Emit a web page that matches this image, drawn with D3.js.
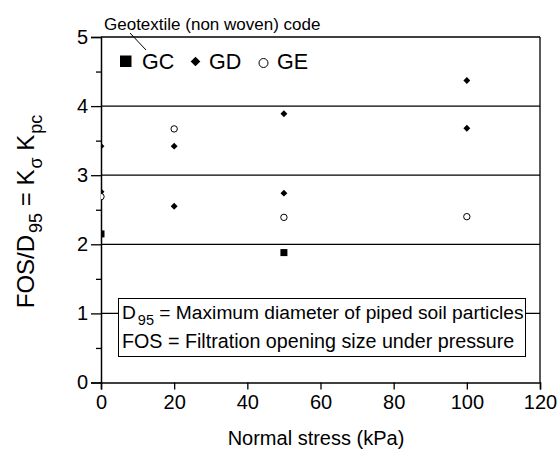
<!DOCTYPE html>
<html>
<head>
<meta charset="utf-8">
<script src="https://cdn.jsdelivr.net/npm/d3@7"></script>
<style>
  html, body { margin: 0; padding: 0; background: #fff; }
  svg { display: block; font-family: "Liberation Sans", Arial, sans-serif; }
</style>
</head>
<body>
<svg id="chart" width="560" height="453"></svg>
<script>
// Normal stress (kPa) and FOS/D95 readings per geotextile
const gcStress = [0, 50];
const gcRatio = [2.15, 1.88];
const gdStress = [0, 0, 20, 20, 50, 50, 100, 100];
const gdRatio = [3.42, 2.76, 3.42, 2.55, 3.89, 2.74, 4.37, 3.68];
const geStress = [0, 20, 50, 100];
const geRatio = [2.69, 3.67, 2.39, 2.40];

const xTicks = [0, 20, 40, 60, 80, 100, 120];
const yTicks = [0, 1, 2, 3, 4, 5];
const yMinorTicks = [0.5, 1.5, 2.5, 3.5, 4.5];

const svg = d3.select("#chart");
const m = { left: 101, right: 540, top: 37, bottom: 382.5 };
const FONT = "Liberation Sans, Arial, sans-serif";

const x = d3.scaleLinear().domain([0, 120]).range([m.left, m.right]);
const y = d3.scaleLinear().domain([0, 5]).range([m.bottom, m.top]);

svg.append("defs").append("clipPath").attr("id", "plotClip")
  .append("rect")
  .attr("x", m.left).attr("y", m.top)
  .attr("width", m.right - m.left).attr("height", m.bottom - m.top);

// horizontal gridlines
svg.append("g").selectAll("line")
  .data(yTicks.filter(d => d > 0 && d < 5))
  .join("line")
  .attr("x1", m.left).attr("x2", m.right)
  .attr("y1", d => y(d)).attr("y2", d => y(d))
  .attr("stroke", "#000").attr("stroke-width", 1.3);

// frame: top and right borders
svg.append("line").attr("x1", m.left).attr("x2", m.right)
  .attr("y1", m.top).attr("y2", m.top)
  .attr("stroke", "#000").attr("stroke-width", 1.3);
svg.append("line").attr("x1", m.right).attr("x2", m.right)
  .attr("y1", m.top).attr("y2", m.bottom)
  .attr("stroke", "#000").attr("stroke-width", 1.3);

// x axis
const xAxis = svg.append("g")
  .attr("transform", `translate(0,${m.bottom})`)
  .call(d3.axisBottom(x).tickValues(xTicks).tickSize(7).tickPadding(5).tickFormat(d3.format("d")));
xAxis.select(".domain").attr("stroke-width", 1.5);
xAxis.selectAll(".tick line").attr("stroke-width", 1.3);
xAxis.selectAll("text").attr("font-size", 20).attr("fill", "#000").attr("font-family", FONT);

// y axis
const yAxis = svg.append("g")
  .attr("transform", `translate(${m.left},0)`)
  .call(d3.axisLeft(y).tickValues(yTicks).tickSize(10).tickPadding(3).tickFormat(d3.format("d")));
yAxis.select(".domain").attr("stroke-width", 1.5);
yAxis.selectAll(".tick line").attr("stroke-width", 1.3);
yAxis.selectAll("text").attr("font-size", 20).attr("fill", "#000").attr("font-family", FONT);

// minor y ticks
svg.append("g")
  .attr("transform", `translate(${m.left},0)`)
  .call(d3.axisLeft(y).tickValues(yMinorTicks).tickSize(5).tickFormat(""))
  .call(g => g.select(".domain").remove())
  .selectAll(".tick line").attr("stroke-width", 1.3);

// data markers
const plot = svg.append("g").attr("clip-path", "url(#plotClip)");
const gc = gcStress.map((s, i) => [s, gcRatio[i]]);
const gd = gdStress.map((s, i) => [s, gdRatio[i]]);
const ge = geStress.map((s, i) => [s, geRatio[i]]);

plot.selectAll(".gc").data(gc).join("rect")
  .attr("x", d => x(d[0]) - 3.5).attr("y", d => y(d[1]) - 3.5)
  .attr("width", 7).attr("height", 7).attr("fill", "#000");

const diamond = d3.symbol().type(d3.symbolDiamond2).size(30);
plot.selectAll(".gd").data(gd).join("path")
  .attr("d", diamond)
  .attr("transform", d => `translate(${x(d[0])},${y(d[1])})`)
  .attr("fill", "#000");

plot.selectAll(".ge").data(ge).join("circle")
  .attr("cx", d => x(d[0])).attr("cy", d => y(d[1])).attr("r", 3.2)
  .attr("fill", "#fff").attr("stroke", "#000").attr("stroke-width", 1);

// legend
const leg = svg.append("g");
leg.append("rect").attr("x", 120).attr("y", 55.5).attr("width", 11.5).attr("height", 11.5).attr("fill", "#000");
leg.append("text").attr("x", 142).attr("y", 68.5).attr("font-size", 21.5).text("GC");
leg.append("path").attr("d", d3.symbol().type(d3.symbolDiamond2).size(60))
  .attr("transform", "translate(195.5,61.5)").attr("fill", "#000");
leg.append("text").attr("x", 209).attr("y", 68.5).attr("font-size", 21.5).text("GD");
leg.append("circle").attr("cx", 263.5).attr("cy", 63).attr("r", 4.5)
  .attr("fill", "#fff").attr("stroke", "#000").attr("stroke-width", 1);
leg.append("text").attr("x", 277).attr("y", 68.5).attr("font-size", 21.5).text("GE");

svg.append("text").attr("x", 104).attr("y", 29.5).attr("font-size", 17)
  .text("Geotextile (non woven) code");
svg.append("line").attr("x1", 130).attr("y1", 33).attr("x2", 146).attr("y2", 50)
  .attr("stroke", "#000").attr("stroke-width", 1);

// definitions box
const box = svg.append("g");
box.append("rect").attr("x", 118.5).attr("y", 298.5).attr("width", 407).attr("height", 58)
  .attr("fill", "#fff").attr("stroke", "#000").attr("stroke-width", 1);
const t1 = box.append("text").attr("x", 122).attr("y", 318.5).attr("font-size", 19.2);
t1.append("tspan").text("D");
t1.append("tspan").attr("dx", 2).attr("dy", 6).attr("font-size", 14.5).text("95");
t1.append("tspan").attr("dy", -6).text(" = Maximum diameter of piped soil particles");
box.append("text").attr("x", 122).attr("y", 348).attr("font-size", 19.7)
  .text("FOS = Filtration opening size under pressure");

// axis titles
svg.append("text").attr("x", 316).attr("y", 445)
  .attr("text-anchor", "middle").attr("font-size", 20).text("Normal stress (kPa)");

const yt = svg.append("text")
  .attr("transform", "translate(34,211.5) rotate(-90)")
  .attr("text-anchor", "middle").attr("font-size", 24);
yt.append("tspan").text("FOS/D");
yt.append("tspan").attr("dx", 2).attr("dy", 8).attr("font-size", 18).text("95");
yt.append("tspan").attr("dy", -8).text(" = K");
yt.append("tspan").attr("dx", 1).attr("dy", 8).attr("font-size", 18).text("σ");
yt.append("tspan").attr("dy", -8).text(" K");
yt.append("tspan").attr("dx", 1).attr("dy", 8).attr("font-size", 18).text("pc");
</script>
</body>
</html>
